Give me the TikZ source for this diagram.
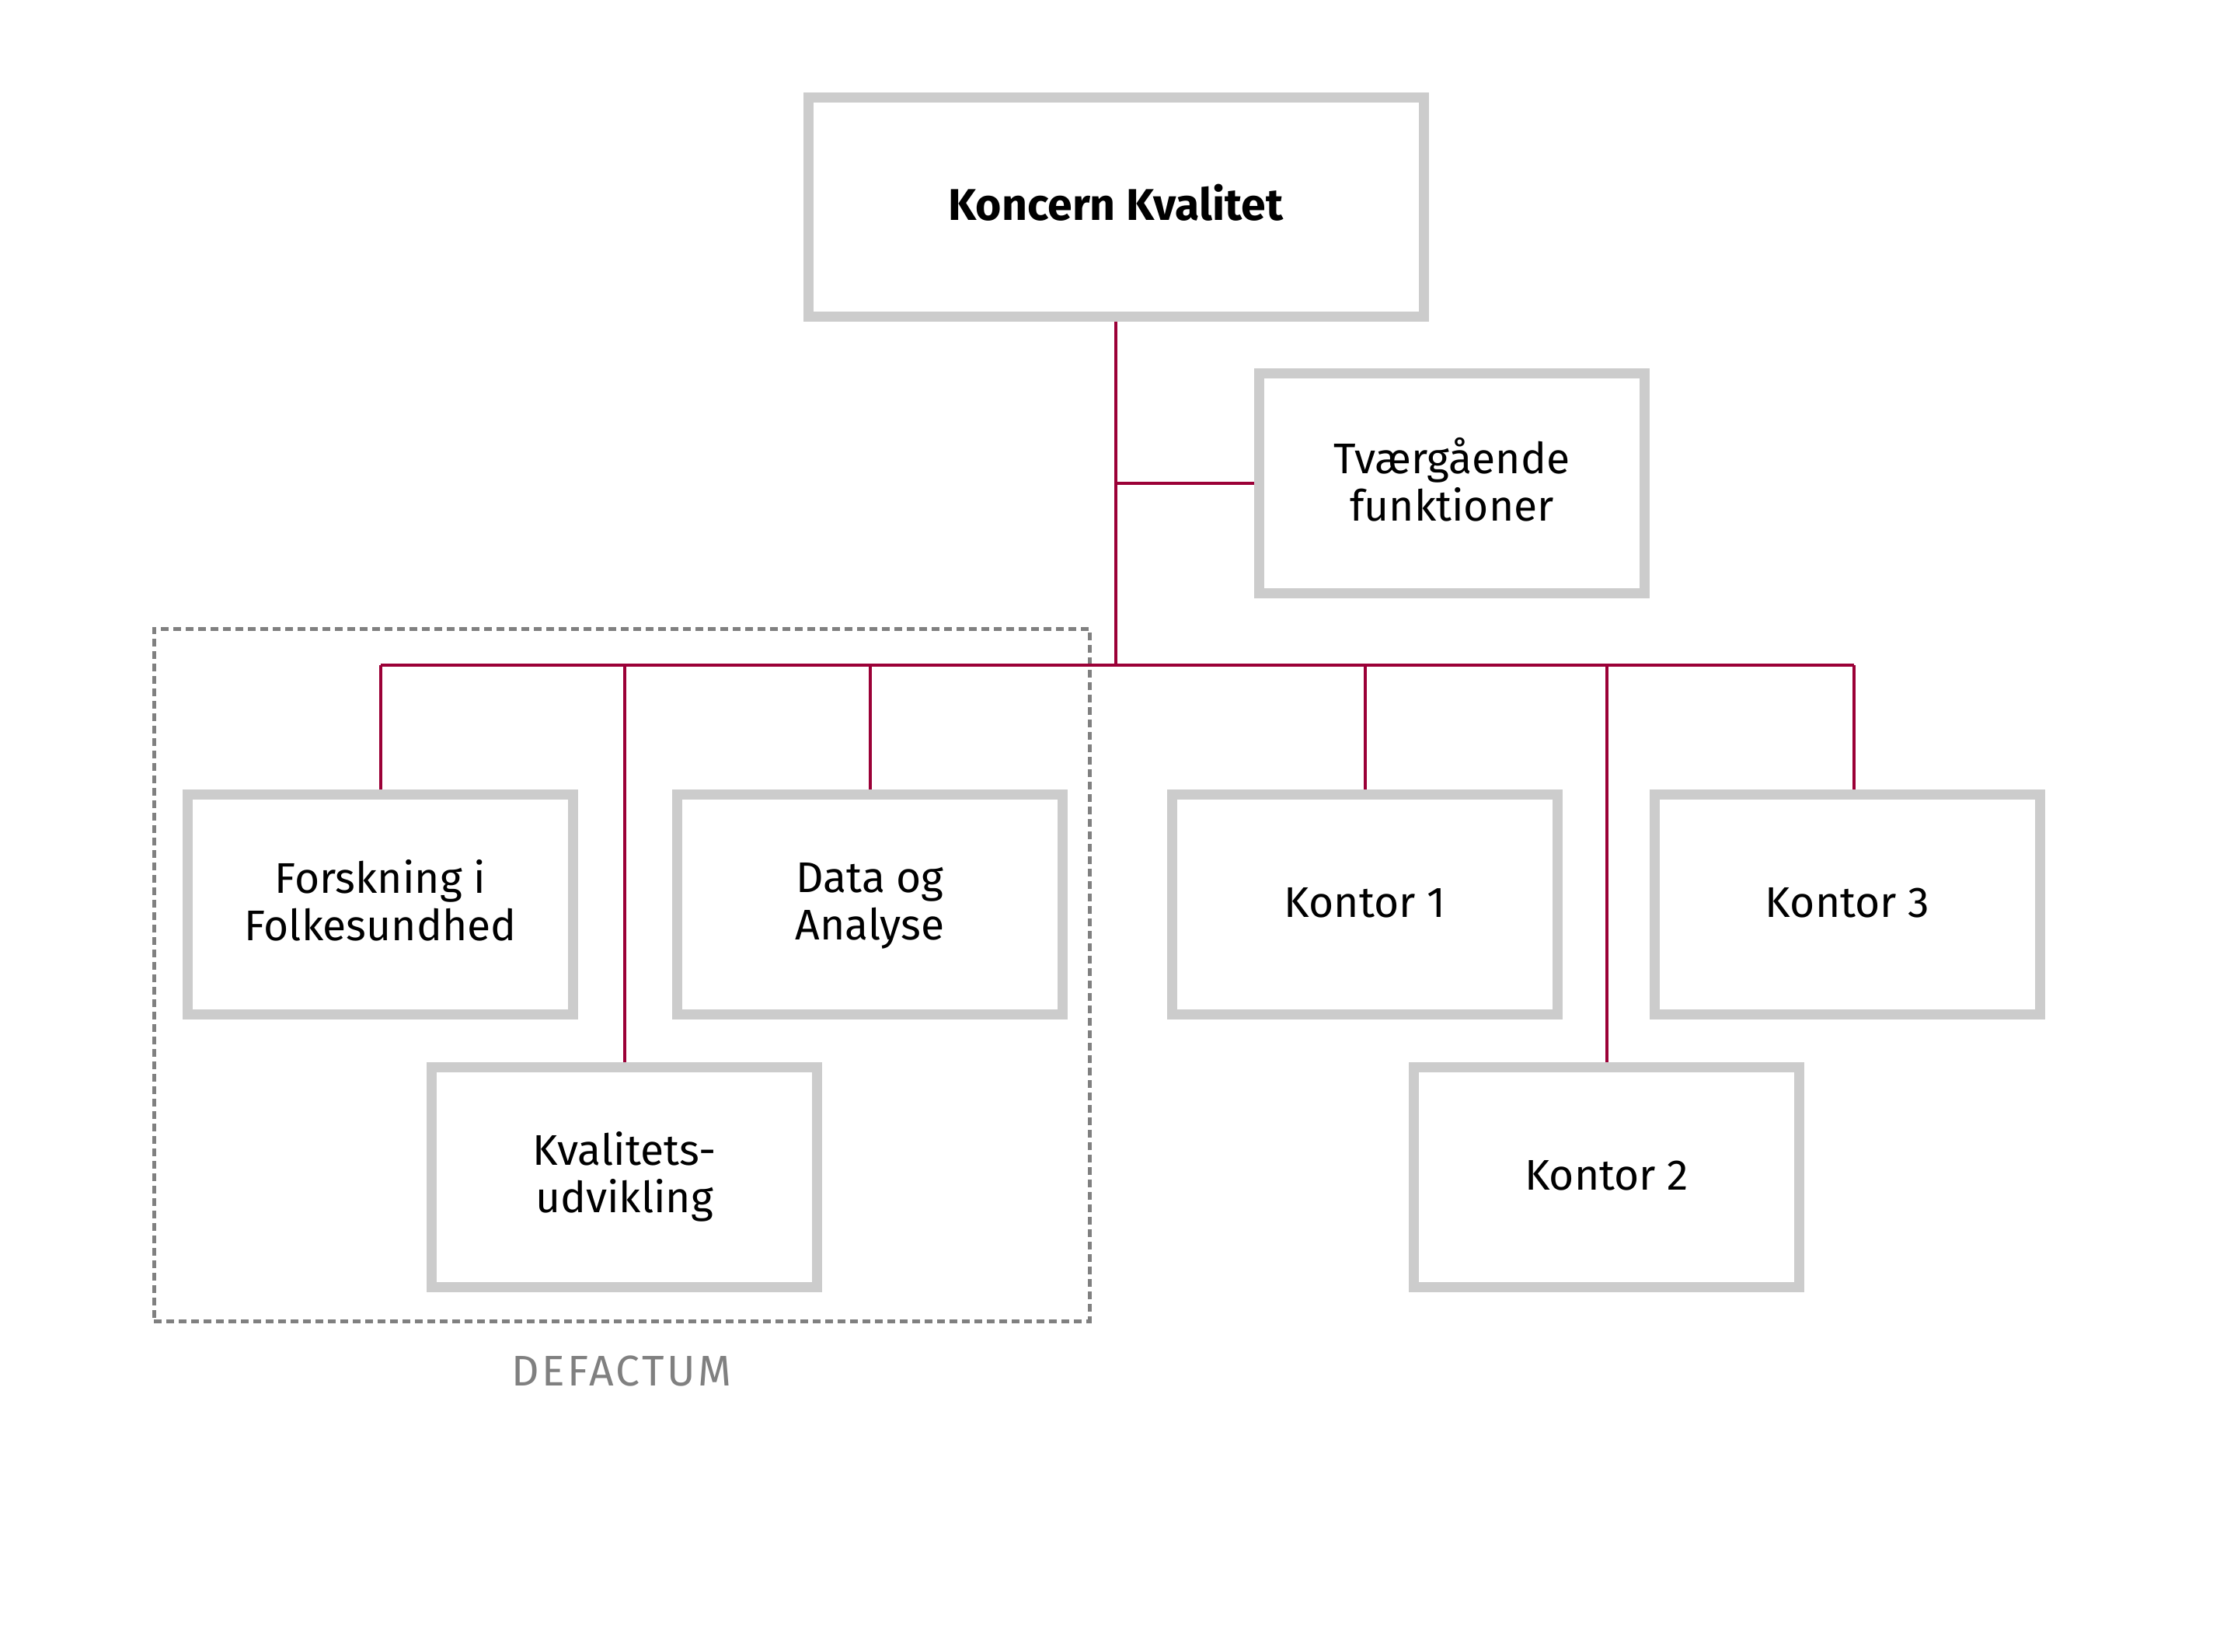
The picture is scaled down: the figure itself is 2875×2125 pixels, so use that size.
\documentclass[tikz,border=0pt]{standalone}
\usepackage{fontspec}
\setmainfont{Fira Sans}
\definecolor{linkred}{RGB}{155,0,55}
\definecolor{boxgray}{RGB}{204,204,204}
\definecolor{dashgray}{RGB}{128,128,128}
\newcommand{\lnstrut}{\rule[-2.45pt]{0pt}{13.15pt}}
\begin{document}
\begin{tikzpicture}[x=0.25pt,y=-0.25pt,
  orgbox/.style={draw=boxgray, line width=3.25pt, fill=white, minimum width=124pt, minimum height=70.75pt, inner sep=0pt, align=center, font=\fontsize{13.8pt}{15.25pt}\selectfont},
  link/.style={draw=linkred, line width=1pt},
  groupbox/.style={draw=dashgray, line width=1.25pt, dash pattern=on 2.5pt off 1.5pt, minimum width=301pt, minimum height=222.75pt, inner sep=0pt},
  grouplabel/.style={text=dashgray, font=\fontsize{13.8pt}{15.25pt}\selectfont\addfontfeature{LetterSpace=6}, inner sep=0pt}
]
\useasboundingbox (0,0) rectangle (2875,2125);

\node[groupbox] (defbox) at (800,1254.5) {};
\node[grouplabel, anchor=base] (deflabel) at (800,1783) {DEFACTUM};

\node[orgbox, minimum width=198pt, minimum height=70.5pt, font=\bfseries\fontsize{14.3pt}{15.25pt}\selectfont] (main) at (1436,266) {\rule[-3.1pt]{0pt}{13.15pt}Koncern Kvalitet};
\node[orgbox] (tvaer) at (1868.5,622) {\lnstrut Tværgående\\\lnstrut funktioner};

\node[orgbox] (fors) at (489.5,1163.5) {\lnstrut Forskning i\\\lnstrut Folkesundhed};
\node[orgbox] (data) at (1119.5,1163.5) {\lnstrut Data og\\\lnstrut Analyse};
\node[orgbox] (k1) at (1756.5,1163.5) {\lnstrut Kontor 1};
\node[orgbox] (k3) at (2377.5,1163.5) {\lnstrut Kontor 3};
\node[orgbox] (kval) at (803.5,1514.5) {\lnstrut Kvalitets-\\\lnstrut udvikling};
\node[orgbox] (k2) at (2067.5,1514.5) {\lnstrut Kontor 2};

\coordinate (busL) at (489.5,856);
\coordinate (busR) at (2386,856);
\coordinate (hub) at (1436,856);

\draw[link] (main.south) -- (hub);
\draw[link] (tvaer.west) -- (tvaer.west -| hub);
\draw[link] (busL) -- (busR);
\draw[link] (fors.north) -- (fors.north |- busL);
\draw[link] (data.north) -- (data.north |- busL);
\draw[link] (k1.north) -- (k1.north |- busL);
\draw[link] (busR) -- (busR |- k3.north);
\draw[link] (kval.north) -- (kval.north |- busL);
\draw[link] (k2.north) -- (k2.north |- busL);
\end{tikzpicture}
\end{document}
